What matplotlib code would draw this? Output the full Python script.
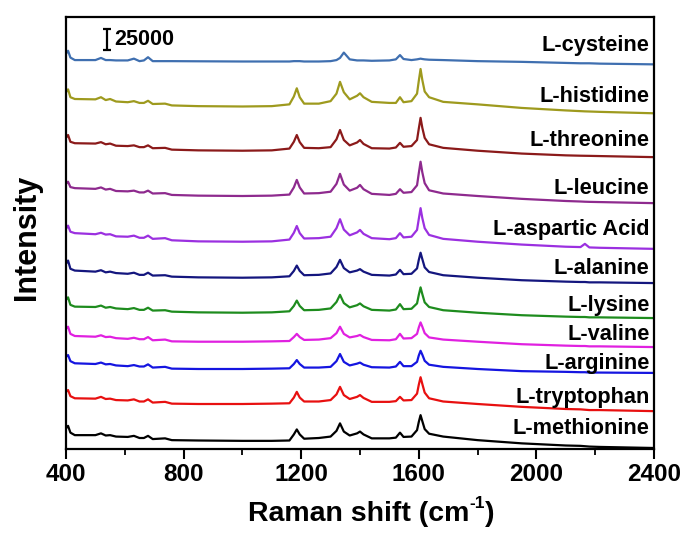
import matplotlib
matplotlib.use("Agg")
import matplotlib.pyplot as plt
from matplotlib.ticker import MultipleLocator

plt.rcParams['font.family'] = ['Liberation Sans', 'DejaVu Sans']
plt.rcParams['font.weight'] = 'bold'

# ---------------- data ----------------
wavenumber = [400, 407, 415, 430, 500, 519, 535, 550, 570, 610,
              631, 650, 665, 679, 695, 737, 760, 850, 1000, 1100,
              1160, 1175, 1185, 1195, 1210, 1260, 1300, 1320, 1332, 1345,
              1365, 1390, 1400, 1412, 1440, 1500, 1522, 1536, 1548, 1575,
              1594, 1600, 1606, 1612, 1620, 1635,
              1683, 1800, 1950, 2100, 2150, 2165, 2180, 2216, 2400]

# intensities (a.u.) relative to each spectrum's baseline
cysteine = [11, 15, 5.5, 2, 2, 5, 2, 2, 1.5, 1.5,
            4, 0.5, 1.5, 6, 0.5, 0.5, 0.5, 0.3, 0, 0,
            0, 0.5, 0.5, 0.5, 0, 0, 0.5, 2, 5, 12.5,
            3, 1.5, 1.5, 1.5, 1, 1.5, 3, 9, 3.5, 2,
            3, 3.5, 4, 3.5, 3, 2.5,
            2, 0.5, -0.5, -2, -2.5, -2.5, -2.5, -3, -4]
histidine = [20, 24, 13, 10.5, 10, 13, 9, 10.5, 7, 6,
             7.5, 5, 5, 8, 3.5, 4, 1.5, 0.5, 0, 0.5,
             3, 14, 25.5, 13, 4, 4, 7.5, 18, 34.5, 20,
             10, 15, 18.5, 13, 6.5, 5, 5, 13, 6, 7.5,
             18, 36, 52.5, 37, 21, 13,
             6.5, 3, -2, -5.5, -6.5, -6.8, -7, -7.5, -9.5]
threonine = [18, 22, 12.5, 10.5, 10, 12, 9, 10, 7, 6.5,
             7.5, 5, 5, 7.5, 3.5, 4, 1.5, 0.5, 0, 0.5,
             3, 12.5, 22, 12, 4, 3.5, 5, 16, 29, 15,
             7.5, 11.5, 15, 9.5, 3.5, 3, 4.5, 11, 5.5, 6.5,
             15, 31, 46, 32, 18, 9,
             4, 0, -4, -6.5, -7, -7.1, -7.2, -7.5, -9]
leucine = [17, 20, 12.5, 11, 10, 12, 9, 10, 7, 6.5,
           7.5, 5, 5, 7.5, 3.5, 4, 1.5, 0.5, 0, 0.5,
           2, 12, 22.5, 12, 3.5, 4, 6, 17, 31, 16,
           7.5, 11.5, 15.5, 9.5, 3, 1.5, 3, 9.5, 4.5, 5.5,
           15, 32, 48, 33, 18, 8,
           3.5, 0, -4, -7, -7.7, -8, -8.2, -8.5, -10]
aspartic = [18, 22.5, 14, 12, 10.5, 12.5, 10, 10.5, 7.5, 7,
            8.5, 5.5, 5.5, 8.5, 4, 5, 2, 0.5, 0, 0.5,
            3, 12.5, 22, 12, 4.5, 5, 7, 19, 31.5, 17,
            9, 13, 16.5, 11, 5, 3.5, 5, 12, 6, 7,
            16.5, 32, 47, 33, 19, 9.5,
            4, 0, -4, -7, -7.5, -3, -8, -8.5, -10]
alanine = [19.5, 24, 12.5, 10, 8.5, 10.5, 7.5, 8.5, 6.5, 5.5,
           7, 4, 4, 7, 3, 3.5, 1.5, 0.5, 0, 0.5,
           2, 9.5, 17, 9.5, 3.5, 4, 6, 15, 25, 13.5,
           7.5, 10, 12, 8.5, 4, 3, 4.5, 11, 5, 5.5,
           13, 25, 35, 26, 14.5, 8,
           3.5, 0, -3.5, -5.5, -6, -6, -6.5, -6.5, -7.5]
lysine = [18, 21.5, 11, 8.5, 8, 10, 7, 8, 6, 5,
          6.5, 4, 4, 7, 3, 3.5, 1.5, 0.5, 0, 0.5,
          2, 9.5, 17, 9.5, 3.5, 4, 6, 15, 25, 13.5,
          7.5, 10.5, 13, 9, 4, 3, 4.5, 12, 5, 5.5,
          13, 25, 35.5, 26, 14.5, 8,
          3.5, 0, -3.5, -5.5, -6, -6, -6.5, -6.5, -7.5]
valine = [18, 21, 11, 8, 7, 9, 6.5, 7, 5, 4,
          5.5, 3.5, 3.5, 6.5, 2, 3, 0.5, 0, 0, 0.5,
          1, 6.5, 11, 6.5, 2.5, 3, 5, 12, 21, 11,
          6, 8, 9.5, 6.5, 2.5, 2, 3.5, 11, 4.5, 5,
          11, 20, 27, 21, 12, 6,
          3, 0, -3.5, -5.5, -6, -6, -6.5, -6.5, -7.5]
arginine = [17, 19.5, 11, 8, 7, 9, 6.5, 7, 5, 4,
            5.5, 3.5, 3.5, 6.5, 2, 3, 0.5, 0, 0, 0.5,
            1, 7, 12.5, 7, 2, 2, 3, 11, 21, 10,
            5, 7.5, 9, 6, 2.5, 2, 3.5, 10, 4, 4,
            10, 19, 25.5, 20, 11.5, 6,
            3, 0, -3, -4, -4.5, -4.5, -5, -5, -5.5]
tryptophan = [17, 19.5, 11, 8, 7.5, 10, 7, 7.5, 5.5, 5,
              6.5, 3.5, 3.5, 6.5, 2, 3, 0.5, 0, 0, 0.5,
              1, 9, 17, 9, 3.5, 3.5, 5.5, 13.5, 24, 12.5,
              7, 10, 12.5, 8.5, 3, 3, 4, 10, 5, 5.5,
              14.5, 27, 37.5, 28, 16, 8,
              3.5, 0, -4, -7, -7.5, -8, -8.5, -8.5, -10]
methionine = [17, 20.5, 11, 7.5, 7.5, 10, 7, 7.5, 5.5, 5,
              6.5, 3.5, 3.5, 6.5, 2, 3, 0.5, 0, -0.5, -0.5,
              0, 8.5, 15.5, 8.5, 2.5, 3.5, 5.5, 13.5, 24, 12.5,
              7, 10, 12.5, 8.5, 3, 3, 4, 11, 5, 5.5,
              14.5, 26, 35.5, 27, 16, 9.5,
              5.5, 0.5, -4, -7, -7.5, -8, -8.5, -9, -10.5]

names = ['L-cysteine', 'L-histidine', 'L-threonine', 'L-leucine',
         'L-aspartic Acid', 'L-alanine', 'L-lysine', 'L-valine',
         'L-arginine', 'L-tryptophan', 'L-methionine']
spectra = [cysteine, histidine, threonine, leucine, aspartic, alanine,
           lysine, valine, arginine, tryptophan, methionine]
# vertical stacking offsets (a.u.)
offsets = [542.5, 479.5, 417.6, 354.2, 290.2, 239.8, 190.8, 150.2, 112.0, 63.0, 11.9]

scale_bar_counts = 25000
counts_per_au = 833

x_ticks = [400, 800, 1200, 1600, 2000, 2400]

# ---------------- style / layout ----------------
colors = ['#3f6fb0', '#9e9a1e', '#8b1a1a', '#8e2a8e', '#9b30e0', '#14167e',
          '#1e8c1e', '#e020e0', '#1515e0', '#e81010', '#000000']
label_y = [565.6, 492.8, 432.6, 365.4, 308.0, 253.4, 201.6, 159.6, 120.4, 72.8, 28.0]

fig = plt.figure(figsize=(6.92, 5.37), dpi=100)
ax = fig.add_axes([66/692, 1-449/537, 588/692, 432/537])

for name, sp, off, col in zip(names, spectra, offsets, colors):
    ax.plot(wavenumber, [v + off for v in sp], color=col, lw=1.6,
            solid_joinstyle='round')

for name, ly in zip(names, label_y):
    ax.text(2385, ly, name, ha='right', va='center', fontsize=15.7,
            fontweight='bold', color='black')

# scale bar
bar_h = scale_bar_counts / counts_per_au
bar_bottom = 558.6
ax.errorbar([538], [bar_bottom + bar_h/2], yerr=[bar_h/2], color='black',
            capsize=3, elinewidth=1.6, capthick=1.6, fmt='none')
ax.text(563, 573.3, str(scale_bar_counts), ha='left', va='center',
        fontsize=15.5, fontweight='bold')

ax.set_xlim(400, 2400)
ax.set_ylim(0, 604.8)
ax.set_xticks(x_ticks)
ax.set_xticklabels([str(t) for t in x_ticks])
ax.xaxis.set_minor_locator(MultipleLocator(200))
ax.set_yticks([])
ax.tick_params(axis='x', which='major', direction='out', length=7, width=1.5,
               labelsize=17.5, pad=3)
ax.tick_params(axis='x', which='minor', direction='out', length=4.5, width=1.3)
for lab in ax.get_xticklabels():
    lab.set_fontweight('bold')
for s in ax.spines.values():
    s.set_linewidth(1.6)

# x label with a small superscript "-1"
t1 = fig.text(248/692, 1-521/537, 'Raman shift (cm', ha='left', va='baseline',
              fontsize=20.5, fontweight='bold')
t2 = plt.annotate('-1', xy=(1, 0.62), xycoords=t1, ha='left', va='bottom',
                  fontsize=12.5, fontweight='bold', annotation_clip=False)
t3 = plt.annotate(')', xy=(1, 0), xycoords=(t2, t1), ha='left', va='bottom',
                  fontsize=20.5, fontweight='bold', annotation_clip=False)

fig.text(27/692, 1-237/537, 'Intensity', rotation=90, ha='center', va='center',
         fontsize=22, fontweight='bold')

fig.savefig('out.png', dpi=100)
